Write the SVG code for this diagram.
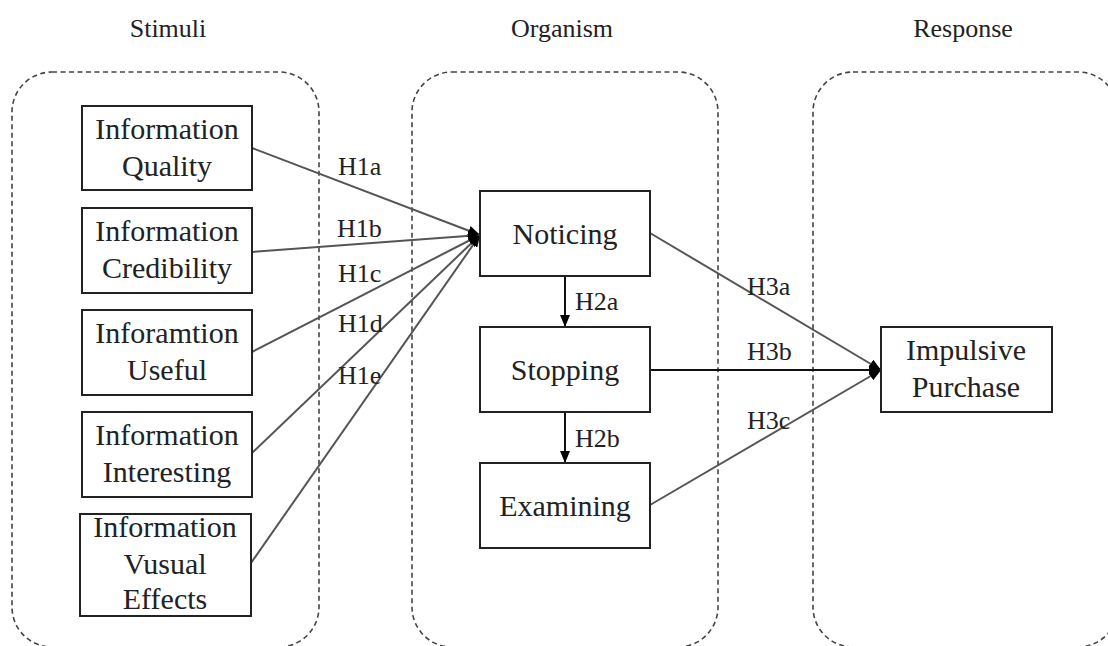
<svg xmlns="http://www.w3.org/2000/svg" width="1108" height="646" viewBox="0 0 1108 646">
<style>
.cont{fill:none;stroke:#444;stroke-width:1.6;stroke-dasharray:5,3.5}
.box{fill:#fff;stroke:#222;stroke-width:2}
text{font-family:"Liberation Serif","Times New Roman",serif;fill:#222}
.t{font-size:30px;text-anchor:middle}
.title{font-size:26px;text-anchor:middle}
.lbl{font-size:26px}
.g{stroke:#555;stroke-width:2;fill:none}
.k{stroke:#111;stroke-width:2;fill:none}
</style>
<defs>
<marker id="ah" viewBox="0 0 12 10" refX="12" refY="5" markerWidth="12" markerHeight="10" markerUnits="userSpaceOnUse" orient="auto">
<path d="M0,0 L12,5 L0,10 Z" fill="#000"/>
</marker>
</defs>
<rect fill="#fff" width="1108" height="646"/>
<g id="containers">
<rect class="cont" x="12" y="72" width="307" height="575" rx="40"/>
<rect class="cont" x="412" y="72" width="306" height="575" rx="40"/>
<rect class="cont" x="813" y="72" width="305" height="575" rx="40"/>
</g>
<g id="titles">
<text class="title" x="168" y="37">Stimuli</text>
<text class="title" x="562" y="37">Organism</text>
<text class="title" x="963" y="37">Response</text>
</g>
<g id="connectors">
<line class="g" x1="252" y1="148" x2="480" y2="235" marker-end="url(#ah)"/>
<line class="g" x1="252" y1="252" x2="480" y2="235" marker-end="url(#ah)"/>
<line class="g" x1="252" y1="352" x2="480" y2="235" marker-end="url(#ah)"/>
<line class="g" x1="252" y1="453" x2="480" y2="235" marker-end="url(#ah)"/>
<line class="g" x1="251" y1="563" x2="480" y2="235" marker-end="url(#ah)"/>
<line class="k" x1="565" y1="276" x2="565" y2="327" marker-end="url(#ah)"/>
<line class="k" x1="565" y1="412" x2="565" y2="463" marker-end="url(#ah)"/>
<line class="g" x1="650" y1="233" x2="881" y2="370" marker-end="url(#ah)"/>
<line class="k" x1="650" y1="370" x2="881" y2="370" marker-end="url(#ah)"/>
<line class="g" x1="650" y1="505" x2="881" y2="370" marker-end="url(#ah)"/>
<text class="lbl" x="338" y="175">H1a</text>
<text class="lbl" x="337" y="237">H1b</text>
<text class="lbl" x="338" y="282">H1c</text>
<text class="lbl" x="338" y="332">H1d</text>
<text class="lbl" x="338" y="384">H1e</text>
<text class="lbl" x="575" y="310">H2a</text>
<text class="lbl" x="575" y="447">H2b</text>
<text class="lbl" x="747" y="295">H3a</text>
<text class="lbl" x="747" y="360">H3b</text>
<text class="lbl" x="747" y="429">H3c</text>
</g>
<g id="n-quality">
<rect class="box" x="82" y="106" width="170" height="84"/>
<text class="t" x="167" y="139">Information</text>
<text class="t" x="167" y="176">Quality</text>
</g>
<g id="n-credibility">
<rect class="box" x="82" y="208" width="170" height="85"/>
<text class="t" x="167" y="241">Information</text>
<text class="t" x="167" y="278">Credibility</text>
</g>
<g id="n-useful">
<rect class="box" x="82" y="310" width="170" height="85"/>
<text class="t" x="167" y="343">Inforamtion</text>
<text class="t" x="167" y="380">Useful</text>
</g>
<g id="n-interesting">
<rect class="box" x="82" y="412" width="170" height="85"/>
<text class="t" x="167" y="445">Information</text>
<text class="t" x="167" y="482">Interesting</text>
</g>
<g id="n-visual">
<rect class="box" x="80" y="514" width="171" height="102"/>
<text class="t" x="165" y="537">Information</text>
<text class="t" x="165" y="574">Vusual</text>
<text class="t" x="165" y="609">Effects</text>
</g>
<g id="n-noticing">
<rect class="box" x="480" y="191" width="170" height="85"/>
<text class="t" x="565" y="244">Noticing</text>
</g>
<g id="n-stopping">
<rect class="box" x="480" y="327" width="170" height="85"/>
<text class="t" x="565" y="380">Stopping</text>
</g>
<g id="n-examining">
<rect class="box" x="480" y="463" width="170" height="85"/>
<text class="t" x="565" y="516">Examining</text>
</g>
<g id="n-impulsive">
<rect class="box" x="881" y="327" width="171" height="85"/>
<text class="t" x="966" y="360">Impulsive</text>
<text class="t" x="966" y="397">Purchase</text>
</g>
</svg>
